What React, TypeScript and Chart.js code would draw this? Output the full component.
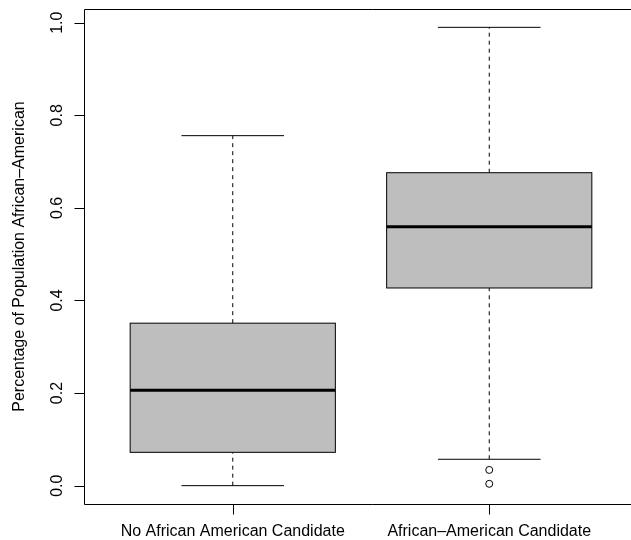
import React, { useEffect, useRef } from "react";
import { Chart, registerables } from "chart.js";

Chart.register(...registerables);

const categories = ["No African American Candidate", "African–American Candidate"];
const whiskerLow = [0.0, 0.057];
const q1 = [0.072, 0.427];
const median = [0.206, 0.559];
const q3 = [0.351, 0.676];
const whiskerHigh = [0.756, 0.99];
const outliers: number[][] = [[], [0.034, 0.004]];
const yTicks = [0, 0.2, 0.4, 0.6, 0.8, 1.0];
const yTitle = "Percentage of Population African–American";

const FONT = "16px 'Liberation Sans', Arial, sans-serif";
const BOX_W = 0.8;
const STAPLE_W = 0.4;
const TICK = 10;

const boxPlugin = {
  id: "boxplotR",
  beforeDatasetsDraw(chart: any) {
    const ctx = chart.ctx as CanvasRenderingContext2D;
    const xs = chart.scales.x;
    const ys = chart.scales.y;
    ctx.save();
    categories.forEach((_, i) => {
      const cx = xs.getPixelForValue(i + 1);
      const xl = xs.getPixelForValue(i + 1 - BOX_W / 2);
      const xr = xs.getPixelForValue(i + 1 + BOX_W / 2);
      const sl = xs.getPixelForValue(i + 1 - STAPLE_W / 2);
      const sr = xs.getPixelForValue(i + 1 + STAPLE_W / 2);
      const yLo = ys.getPixelForValue(whiskerLow[i]);
      const yQ1 = ys.getPixelForValue(q1[i]);
      const yMed = ys.getPixelForValue(median[i]);
      const yQ3 = ys.getPixelForValue(q3[i]);
      const yHi = ys.getPixelForValue(whiskerHigh[i]);
      ctx.strokeStyle = "#000";
      ctx.lineWidth = 1;
      ctx.setLineDash([4, 4]);
      ctx.beginPath();
      ctx.moveTo(cx, yLo);
      ctx.lineTo(cx, yQ1);
      ctx.moveTo(cx, yQ3);
      ctx.lineTo(cx, yHi);
      ctx.stroke();
      ctx.setLineDash([]);
      ctx.beginPath();
      ctx.moveTo(sl, yLo);
      ctx.lineTo(sr, yLo);
      ctx.moveTo(sl, yHi);
      ctx.lineTo(sr, yHi);
      ctx.stroke();
      ctx.fillStyle = "#BEBEBE";
      ctx.fillRect(xl, yQ3, xr - xl, yQ1 - yQ3);
      ctx.strokeRect(xl, yQ3, xr - xl, yQ1 - yQ3);
      ctx.lineWidth = 3;
      ctx.beginPath();
      ctx.moveTo(xl, yMed);
      ctx.lineTo(xr, yMed);
      ctx.stroke();
    });
    ctx.restore();
  },
  afterDraw(chart: any) {
    const ctx = chart.ctx as CanvasRenderingContext2D;
    const xs = chart.scales.x;
    const ys = chart.scales.y;
    const a = chart.chartArea;
    ctx.save();
    ctx.strokeStyle = "#000";
    ctx.fillStyle = "#000";
    ctx.lineWidth = 1;
    const L = a.left + 0.5;
    const T = a.top + 0.5;
    const B = a.bottom + 0.5;
    ctx.beginPath();
    ctx.moveTo(chart.width, T);
    ctx.lineTo(L, T);
    ctx.lineTo(L, B);
    ctx.lineTo(chart.width, B);
    ctx.stroke();
    ctx.beginPath();
    yTicks.forEach((t) => {
      const py = Math.round(ys.getPixelForValue(t)) + 0.5;
      ctx.moveTo(L, py);
      ctx.lineTo(L - TICK, py);
    });
    categories.forEach((_, i) => {
      const px = Math.round(xs.getPixelForValue(i + 1)) + 0.5;
      ctx.moveTo(px, B);
      ctx.lineTo(px, B + TICK);
    });
    ctx.stroke();
    ctx.font = FONT;
    yTicks.forEach((t) => {
      const py = ys.getPixelForValue(t);
      ctx.save();
      ctx.translate(62, py);
      ctx.rotate(-Math.PI / 2);
      ctx.textAlign = "center";
      ctx.textBaseline = "alphabetic";
      ctx.fillText(t.toFixed(1), 0, 0);
      ctx.restore();
    });
    ctx.save();
    ctx.translate(24, (a.top + a.bottom) / 2);
    ctx.rotate(-Math.PI / 2);
    ctx.textAlign = "center";
    ctx.textBaseline = "alphabetic";
    ctx.fillText(yTitle, 0, 0);
    ctx.restore();
    ctx.textAlign = "center";
    ctx.textBaseline = "alphabetic";
    categories.forEach((c, i) => {
      ctx.fillText(c, xs.getPixelForValue(i + 1), 536);
    });
    ctx.restore();
  },
};

export default function App() {
  const ref = useRef<HTMLCanvasElement | null>(null);
  useEffect(() => {
    if (!ref.current) return;
    const outlierPoints: { x: number; y: number }[] = [];
    outliers.forEach((arr, i) => arr.forEach((v) => outlierPoints.push({ x: i + 1, y: v })));
    const chart = new Chart(ref.current, {
      type: "scatter",
      data: {
        datasets: [
          {
            label: "outliers",
            data: outlierPoints,
            pointRadius: 3.5,
            pointBorderWidth: 1,
            pointBorderColor: "#000",
            pointBackgroundColor: "rgba(0,0,0,0)",
          },
        ],
      },
      options: {
        responsive: false,
        animation: false,
        layout: { padding: { left: 84, top: 9, right: 22, bottom: 36 } },
        plugins: { legend: { display: false }, tooltip: { enabled: false } },
        scales: {
          x: { type: "linear", display: false, min: 0.42, max: 2.58 },
          y: { type: "linear", display: false, min: -0.0396, max: 1.0296 },
        },
      },
      plugins: [boxPlugin],
    });
    return () => chart.destroy();
  }, []);
  return (
    <div
      style={{
        position: "fixed",
        left: 0,
        top: 0,
        width: 631,
        height: 540,
        overflow: "hidden",
        background: "#fff",
      }}
    >
      <canvas ref={ref} width={660} height={540} style={{ display: "block" }} />
    </div>
  );
}
